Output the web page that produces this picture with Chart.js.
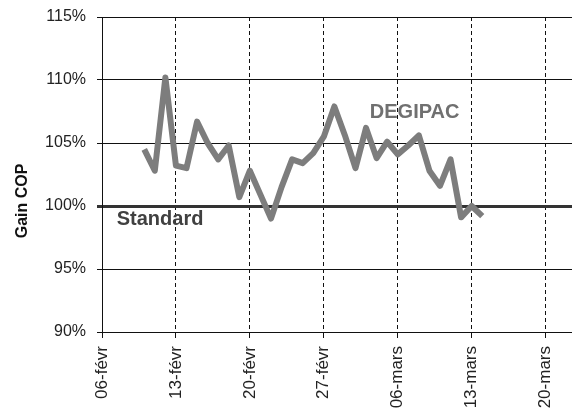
<!DOCTYPE html>
<html>
<head>
<meta charset="utf-8">
<script src="https://cdn.jsdelivr.net/npm/chart.js@4.4.0/dist/chart.umd.min.js"></script>
<style>
  html, body { margin: 0; padding: 0; background: #fff; }
  #wrap { width: 572px; height: 418px; }
</style>
</head>
<body>
<div id="wrap"><canvas id="copChart" width="572" height="418"></canvas></div>
<script>
// daily readings, 10-févr to 14-mars
var dates = [
  '02-10', '02-11', '02-12', '02-13', '02-14', '02-15', '02-16', '02-17', '02-18', '02-19',
  '02-20', '02-21', '02-22', '02-23', '02-24', '02-25', '02-26', '02-27', '02-28',
  '03-01', '03-02', '03-03', '03-04', '03-05', '03-06', '03-07', '03-08', '03-09', '03-10',
  '03-11', '03-12', '03-13', '03-14'
];
var gainCop = [
  104.5, 102.8, 110.2, 103.2, 103.0, 106.7, 105.0, 103.7, 104.8, 100.7,
  102.8, 100.9, 99.0, 101.5, 103.7, 103.4, 104.2, 105.5, 107.9,
  105.6, 103.0, 106.2, 103.8, 105.1, 104.1, 104.8, 105.6, 102.8, 101.6,
  103.7, 99.1, 100.0, 99.2
];
var tickLabels = ['06-févr', '13-févr', '20-févr', '27-févr', '06-mars', '13-mars', '20-mars'];
var yTicks = [90, 95, 100, 105, 110, 115];

// text labels placed on the plot, in data units (days since 06-févr, %)
var notes = [
  { text: 'Standard', day: 5.5, value: 98.95, color: '#404040' },
  { text: 'DEGIPAC', day: 29.6, value: 107.4, color: '#707070' }
];

var startDate = '02-06';
var dayMs = 24 * 3600 * 1000;
function dayIndex(md) {
  var a = md.split('-'), b = startDate.split('-');
  return Math.round((Date.UTC(2006, +a[0] - 1, +a[1]) - Date.UTC(2006, +b[0] - 1, +b[1])) / dayMs);
}

var points = dates.map(function(d, i) { return { x: dayIndex(d), y: gainCop[i] }; });

var labelsPlugin = {
  id: 'labelsPlugin',
  afterDraw: function(chart) {
    var ctx = chart.ctx;
    var xs = chart.scales.x, ys = chart.scales.y;
    ctx.save();
    ctx.textAlign = 'center';
    ctx.textBaseline = 'middle';
    ctx.font = 'bold 20px "Liberation Sans", Arial, sans-serif';
    notes.forEach(function(n) {
      ctx.fillStyle = n.color;
      ctx.fillText(n.text, xs.getPixelForValue(n.day), ys.getPixelForValue(n.value));
    });
    // y axis title
    ctx.translate(23, ys.getPixelForValue(100.4));
    ctx.rotate(-Math.PI / 2);
    ctx.fillStyle = '#111';
    ctx.font = 'bold 16px "Liberation Sans", Arial, sans-serif';
    ctx.fillText('Gain COP', 0, 0);
    ctx.restore();
  }
};

var bgPlugin = {
  id: 'bgPlugin',
  beforeDraw: function(chart) {
    var ctx = chart.ctx;
    ctx.save();
    ctx.fillStyle = '#fff';
    ctx.fillRect(0, 0, chart.width, chart.height);
    ctx.restore();
  }
};

new Chart(document.getElementById('copChart').getContext('2d'), {
  type: 'line',
  data: {
    datasets: [{
      data: points,
      borderColor: '#7d7d7d',
      borderWidth: 6,
      borderJoinStyle: 'round',
      pointRadius: 0,
      tension: 0
    }]
  },
  options: {
    responsive: false,
    animation: false,
    layout: { padding: { top: 17, right: 0, left: 0, bottom: 0 } },
    plugins: { legend: { display: false }, tooltip: { enabled: false } },
    scales: {
      x: {
        type: 'linear',
        min: 0,
        max: 44.5,
        afterBuildTicks: function(scale) {
          scale.ticks = tickLabels.map(function(_, i) { return { value: i * 7 }; });
        },
        afterFit: function(scale) { scale.height = 86; scale.paddingRight = 0; },
        grid: { color: '#111', lineWidth: 1, tickLength: 6 },
        border: { display: true, color: '#111', width: 1, dash: [4, 3] },
        ticks: {
          autoSkip: false,
          maxRotation: 90,
          minRotation: 90,
          padding: 8,
          color: '#222',
          font: { family: '"Liberation Sans", Arial, sans-serif', size: 17 },
          callback: function(v) { return tickLabels[Math.round(v / 7)]; }
        }
      },
      y: {
        min: 90,
        max: 115,
        afterBuildTicks: function(scale) {
          scale.ticks = yTicks.map(function(v) { return { value: v }; });
        },
        afterFit: function(scale) {
          scale.width = 102;
          scale.paddingTop = 0;
          scale.paddingBottom = 0;
        },
        grid: {
          color: function(c) { return c.tick && c.tick.value === 100 ? '#333' : '#111'; },
          lineWidth: function(c) { return c.tick && c.tick.value === 100 ? 3 : 1; },
          tickLength: 5
        },
        border: { display: true, color: '#111', width: 1 },
        ticks: {
          padding: 11,
          color: '#222',
          font: { family: '"Liberation Sans", Arial, sans-serif', size: 16 },
          callback: function(v) { return v + '%'; }
        }
      }
    }
  },
  plugins: [bgPlugin, labelsPlugin]
});
</script>
</body>
</html>
